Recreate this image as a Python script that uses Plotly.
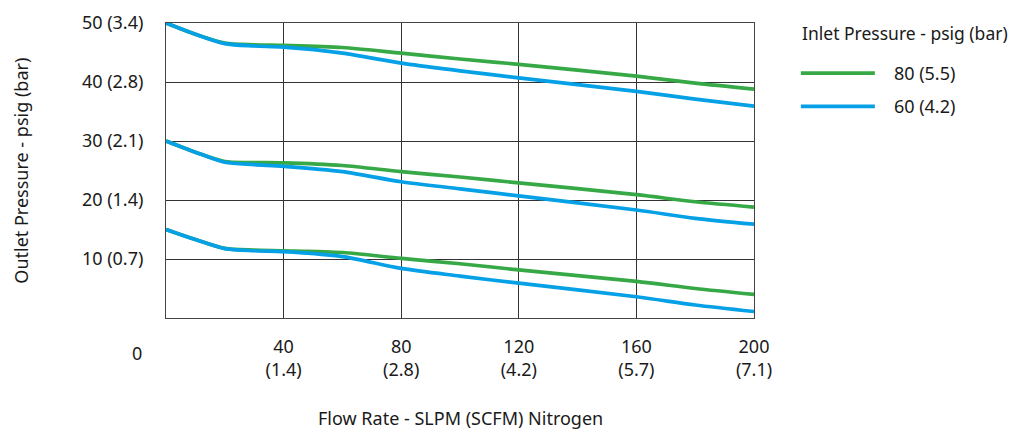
import plotly.graph_objects as go

# Flow rate (SLPM)
flow = [0, 10, 20, 30, 40, 60, 80, 100, 120, 160, 180, 200]

# Outlet pressure curves (psig) for three set points, two inlet pressures
green_50 = [50, 48.1, 46.6, 46.3, 46.2, 45.85, 44.9, 43.9, 43.0, 41.0, 39.8, 38.8]
green_30 = [30, 28.1, 26.5, 26.35, 26.3, 25.85, 24.8, 23.9, 22.9, 20.9, 19.7, 18.8]
green_15 = [15, 13.3, 11.8, 11.5, 11.4, 11.1, 10.1, 9.2, 8.15, 6.2, 5.0, 4.0]

blue_50 = [50, 48.1, 46.5, 46.1, 45.9, 44.9, 43.2, 41.9, 40.7, 38.4, 37.1, 35.9]
blue_30 = [30, 28.1, 26.4, 26.0, 25.7, 24.8, 23.1, 21.9, 20.7, 18.3, 16.9, 15.9]
blue_15 = [15, 13.3, 11.75, 11.4, 11.25, 10.4, 8.4, 7.1, 5.9, 3.6, 2.2, 1.1]

legend_title = "Inlet Pressure - psig (bar)"
series_names = ["\u00a0\u00a0\u00a080 (5.5)", "\u00a0\u00a0\u00a060 (4.2)"]
x_tickvals = [40, 80, 120, 160, 200]
x_ticktext = ["40<br>(1.4)", "80<br>(2.8)", "120<br>(4.2)", "160<br>(5.7)", "200<br>(7.1)"]
y_tickvals = [10, 20, 30, 40, 50]
y_ticktext = ["10 (0.7)", "20 (1.4)", "30 (2.1)", "40 (2.8)", "50 (3.4)"]

GREEN = "#36a946"
BLUE = "#06a0e6"
FONT = "Noto Sans"
FS = 18

fig = go.Figure()
for i, ys in enumerate([green_50, green_30, green_15]):
    fig.add_trace(go.Scatter(x=flow, y=ys, mode="lines", name=series_names[0],
                             legendgroup="g", showlegend=(i == 0),
                             line=dict(color=GREEN, width=3.7, shape="spline", smoothing=0.8)))
for i, ys in enumerate([blue_50, blue_30, blue_15]):
    fig.add_trace(go.Scatter(x=flow, y=ys, mode="lines", name=series_names[1],
                             legendgroup="b", showlegend=(i == 0),
                             line=dict(color=BLUE, width=3.7, shape="spline", smoothing=0.8)))

fig.update_layout(
    width=1011, height=422,
    margin=dict(l=158, r=265, t=15, b=112),
    paper_bgcolor="white", plot_bgcolor="white",
    font=dict(family=FONT, size=FS, color="#1a1a1a"),
    legend=dict(
        x=1.078, xanchor="left", y=0.892, yanchor="top",
        itemwidth=74, tracegroupgap=7, traceorder="grouped", indentation=-4,
        font=dict(size=FS),
    ),
    annotations=[
        dict(text=legend_title, xref="paper", yref="paper",
             x=1.078, y=0.966, xanchor="left", yanchor="middle", showarrow=False,
             font=dict(size=17.5)),
        dict(text="Flow Rate - SLPM (SCFM) Nitrogen", xref="paper", yref="paper",
             x=0.5, y=-0.339, xanchor="center", yanchor="middle", showarrow=False,
             font=dict(size=FS)),
        dict(text="Outlet Pressure - psig (bar)", xref="paper", yref="paper",
             x=-0.248, y=0.5, xanchor="center", yanchor="middle", showarrow=False,
             textangle=-90, font=dict(size=FS)),
        dict(text="0", xref="paper", yref="paper",
             x=-0.037, y=-0.119, xanchor="right", yanchor="middle", showarrow=False,
             font=dict(size=FS)),
    ],
)
fig.update_xaxes(range=[0, 200], tickvals=x_tickvals, ticktext=x_ticktext,
                 showgrid=True, gridcolor="#333", gridwidth=1, automargin=False,
                 showline=True, mirror=True, linecolor="#444", linewidth=1,
                 zeroline=False, ticks="", ticklabelstandoff=12)
fig.update_yaxes(range=[0, 50], tickvals=y_tickvals, ticktext=y_ticktext,
                 showgrid=True, gridcolor="#333", gridwidth=1, automargin=False,
                 showline=True, mirror=True, linecolor="#444", linewidth=1,
                 zeroline=False, ticks="", ticklabelstandoff=18)

fig.write_html("out.html")
